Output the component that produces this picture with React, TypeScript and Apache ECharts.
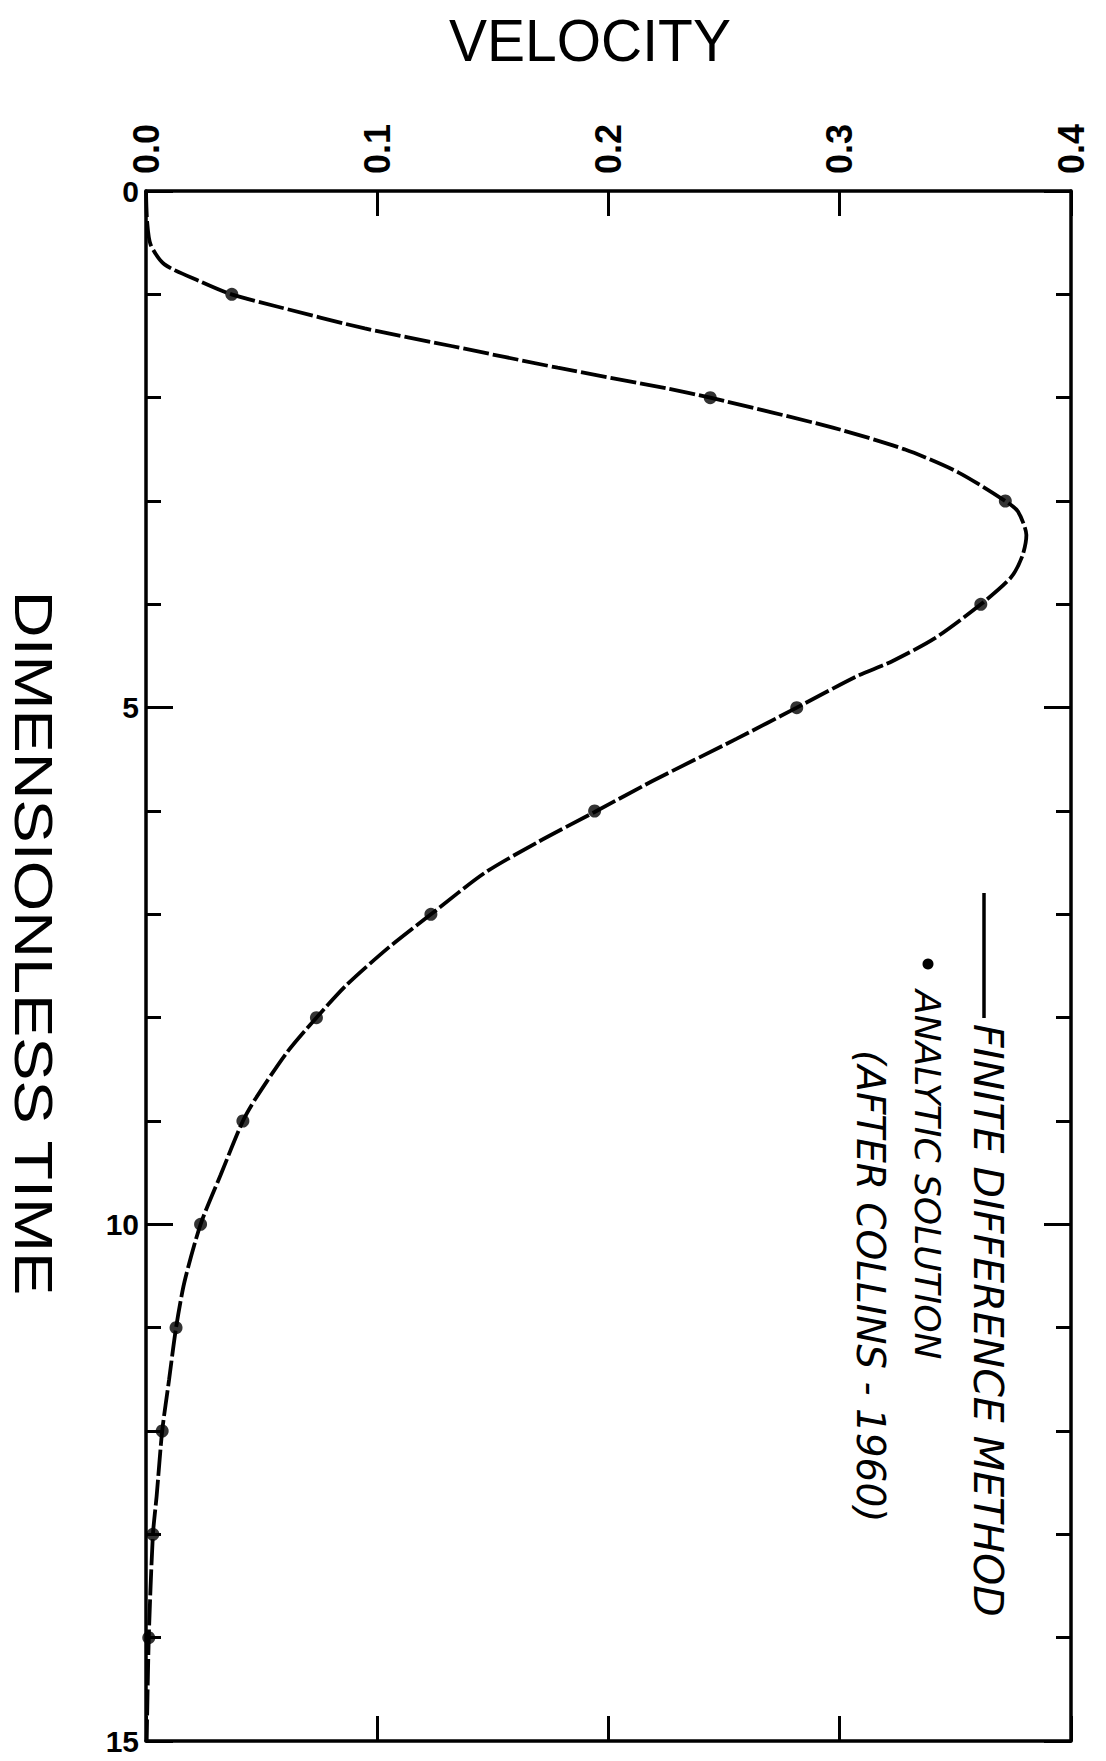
import React, { useEffect, useRef } from "react";
import * as echarts from "echarts";

// Finite difference method curve (dimensionless time, velocity)
const TIME_FD = [0, 0.3, 0.52, 0.71, 0.88, 1.0, 1.12, 1.33, 1.5, 1.71, 1.91, 2.0, 2.29, 2.5, 2.72, 3.0, 3.1, 3.33, 3.53, 3.74, 4.0, 4.33, 4.55, 4.7, 5.0, 5.3, 5.71, 6.01, 6.3, 6.6, 7.0, 7.32, 7.68, 8.0, 8.35, 8.79, 9.0, 9.52, 10.0, 10.56, 11.0, 11.5, 12.0, 12.63, 13.0, 14.0, 15.0];
const VEL_FD = [0, 0.0005, 0.002, 0.008, 0.024, 0.037, 0.057, 0.0946, 0.132, 0.178, 0.225, 0.244, 0.297, 0.328, 0.351, 0.3716, 0.377, 0.3807, 0.379, 0.374, 0.361, 0.341, 0.3227, 0.307, 0.2814, 0.2555, 0.219, 0.194, 0.1695, 0.1464, 0.1232, 0.105, 0.0869, 0.0737, 0.0605, 0.0472, 0.0419, 0.0323, 0.0236, 0.0166, 0.013, 0.01, 0.007, 0.0046, 0.003, 0.0012, 0.0003];

// Analytic solution (after Collins - 1960)
const TIME_AN = [1, 2, 3, 4, 5, 6, 7, 8, 9, 10, 11, 12, 13, 14];
const VEL_AN = [0.0371, 0.244, 0.3716, 0.361, 0.2814, 0.194, 0.1232, 0.0737, 0.0419, 0.0236, 0.013, 0.007, 0.003, 0.0012];

const VEL_TICK_LABELS = ["0.0", "0.1", "0.2", "0.3", "0.4"];
const TIME_TICK_LABELS = ["0", "5", "10", "15"];

const LEGEND_LINE = "FINITE DIFFERENCE METHOD";
const LEGEND_DOT = "ANALYTIC SOLUTION";
const LEGEND_NOTE = "(AFTER COLLINS - 1960)";

export default function App() {
  const ref = useRef<HTMLDivElement>(null);
  useEffect(() => {
    if (!ref.current) return;
    const chart = echarts.init(ref.current, null, { renderer: "svg" });
    const axisLine = { show: true, onZero: false, lineStyle: { color: "#000", width: 3.5 } };
    const xBase = {
      type: "value" as const,
      min: 0,
      max: 0.4,
      interval: 0.1,
      axisLine,
      axisTick: { show: true, inside: true, length: 25, lineStyle: { color: "#000", width: 3 } },
      splitLine: { show: false },
    };
    const yBase = {
      type: "value" as const,
      min: 0,
      max: 15,
      interval: 5,
      inverse: true,
      axisLine,
      axisTick: { show: true, inside: true, length: 27, lineStyle: { color: "#000", width: 3 } },
      minorTick: { show: true, splitNumber: 5, length: 15, lineStyle: { color: "#000", width: 3 } },
      splitLine: { show: false },
      minorSplitLine: { show: false },
    };
    const legendFont = "'DejaVu Sans', sans-serif";
    chart.setOption({
      animation: false,
      backgroundColor: "#fff",
      grid: { left: 146, top: 191, right: 35, bottom: 20, containLabel: false },
      xAxis: [
        {
          ...xBase,
          position: "top",
          axisLabel: {
            show: true,
            rotate: -90,
            margin: 17,
            color: "#000",
            fontSize: 36,
            fontWeight: "bold",
            fontFamily: "'Liberation Sans', sans-serif",
            formatter: (v: number) => VEL_TICK_LABELS[Math.round(v * 10)] ?? "",
          },
        },
        { ...xBase, position: "bottom", axisLabel: { show: false } },
      ],
      yAxis: [
        {
          ...yBase,
          position: "left",
          axisLabel: {
            show: true,
            margin: 7,
            color: "#000",
            fontSize: 30,
            lineHeight: 24,
            fontWeight: "bold",
            fontFamily: "'Liberation Sans', sans-serif",
            formatter: (v: number) => TIME_TICK_LABELS[Math.round(v / 5)] ?? "",
          },
        },
        { ...yBase, position: "right", axisLabel: { show: false } },
      ],
      series: [
        {
          type: "line",
          name: LEGEND_LINE,
          xAxisIndex: 0,
          yAxisIndex: 0,
          data: VEL_FD.map((v, i) => [v, TIME_FD[i]]),
          symbol: "none",
          smooth: 0.25,
          clip: false,
          lineStyle: { color: "#000", width: 3.8, type: [26, 4] },
        },
        {
          type: "scatter",
          name: LEGEND_DOT,
          xAxisIndex: 0,
          yAxisIndex: 0,
          data: VEL_AN.map((v, i) => [v, TIME_AN[i]]),
          symbol: "circle",
          symbolSize: 13,
          itemStyle: { color: "#000" },
        },
      ],
      graphic: [
        {
          type: "text",
          x: 590,
          y: 40,
          scaleX: 0.95,
          style: {
            text: "VELOCITY",
            fill: "#000",
            font: "normal 60px 'Liberation Sans', sans-serif",
            textAlign: "center",
            textVerticalAlign: "middle",
          },
        },
        {
          type: "text",
          x: 34,
          y: 943,
          rotation: -Math.PI / 2,
          scaleX: 1.2,
          style: {
            text: "DIMENSIONLESS TIME",
            fill: "#000",
            font: "normal 54px 'Liberation Sans', sans-serif",
            textAlign: "center",
            textVerticalAlign: "middle",
          },
        },
        {
          type: "line",
          shape: { x1: 984, y1: 893, x2: 984, y2: 1018 },
          style: { stroke: "#000", lineWidth: 3.5 },
        },
        {
          type: "circle",
          shape: { cx: 928, cy: 964, r: 5.5 },
          style: { fill: "#000" },
        },
        {
          type: "text",
          x: 988,
          y: 1024,
          rotation: -Math.PI / 2,
          style: {
            text: LEGEND_LINE,
            fill: "#000",
            font: `italic 41px ${legendFont}`,
            textAlign: "left",
            textVerticalAlign: "middle",
          },
        },
        {
          type: "text",
          x: 927,
          y: 990,
          rotation: -Math.PI / 2,
          style: {
            text: LEGEND_DOT,
            fill: "#000",
            font: `italic 36px ${legendFont}`,
            textAlign: "left",
            textVerticalAlign: "middle",
          },
        },
        {
          type: "text",
          x: 870,
          y: 1050,
          rotation: -Math.PI / 2,
          style: {
            text: LEGEND_NOTE,
            fill: "#000",
            font: `italic 39px ${legendFont}`,
            textAlign: "left",
            textVerticalAlign: "middle",
          },
        },
      ],
    });
    return () => chart.dispose();
  }, []);
  return (
    <div
      ref={ref}
      style={{ position: "absolute", left: 0, top: 0, width: 1106, height: 1761, background: "#fff" }}
    />
  );
}
